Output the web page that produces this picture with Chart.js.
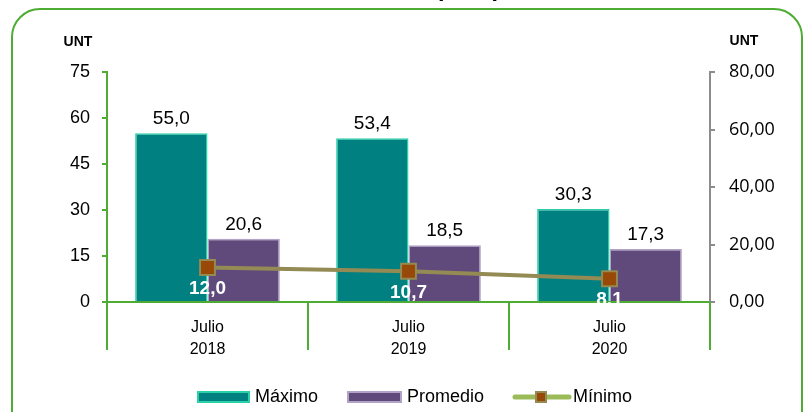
<!DOCTYPE html>
<html>
<head>
<meta charset="utf-8">
<script src="https://cdn.jsdelivr.net/npm/chart.js@4"></script>
<style>
  html, body { margin: 0; padding: 0; background: #fff; }
  #wrap { width: 806px; height: 412px; position: relative; }
</style>
</head>
<body>
<div id="wrap"><canvas id="grafico" width="806" height="412"></canvas></div>
<script>
// datos
const meses = [["Julio", "2018"], ["Julio", "2019"], ["Julio", "2020"]];
const maximo = [55.0, 53.4, 30.3];
const promedio = [20.6, 18.5, 17.3];
const minimo = [12.0, 10.7, 8.1];
const ticksIzq = [0, 15, 30, 45, 60, 75];
const ticksDer = [0, 20, 40, 60, 80];

const verde = "#4eac34";
const fuente = "'Liberation Sans', Arial, sans-serif";

function coma(v, d) {
  return v.toFixed(d).replace(".", ",");
}

// marco redondeado, unidades, separadores y leyenda
const extras = {
  id: "extras",
  beforeDraw(chart) {
    const ctx = chart.ctx;
    ctx.save();
    ctx.strokeStyle = verde;
    ctx.lineWidth = 2;
    ctx.beginPath();
    ctx.roundRect(12, 9, 790, 440, 28);
    ctx.stroke();
    ctx.restore();
  },
  afterDraw(chart) {
    const ctx = chart.ctx;
    const x = chart.scales.x;
    const area = chart.chartArea;
    ctx.save();
    // titulo cortado arriba
    ctx.fillStyle = "#000";
    ctx.font = "bold 24px " + fuente;
    ctx.textAlign = "center";
    ctx.textBaseline = "alphabetic";
    ctx.fillText("(UNT)", 468, -4);
    // unidades
    ctx.font = "bold 14px " + fuente;
    ctx.fillText("UNT", 78, 46);
    ctx.fillText("UNT", 744, 45);
    // separadores de categoria
    ctx.strokeStyle = verde;
    ctx.lineWidth = 2;
    for (let i = 0; i <= meses.length; i++) {
      const px = Math.round(x.getPixelForValue(i - 0.5));
      ctx.beginPath();
      ctx.moveTo(px, area.bottom);
      ctx.lineTo(px, area.bottom + 48);
      ctx.stroke();
    }
    // leyenda
    const ly = 397;
    ctx.font = "18px " + fuente;
    ctx.textAlign = "left";
    ctx.textBaseline = "middle";
    ctx.lineWidth = 2;
    ctx.fillStyle = "#008080";
    ctx.strokeStyle = "#2ad0a6";
    ctx.fillRect(198, ly - 5, 51, 10);
    ctx.strokeRect(198, ly - 5, 51, 10);
    ctx.fillStyle = "#000";
    ctx.fillText("Máximo", 255, ly);
    ctx.fillStyle = "#604a7b";
    ctx.strokeStyle = "#b3a2c7";
    ctx.fillRect(348, ly - 5, 53, 10);
    ctx.strokeRect(348, ly - 5, 53, 10);
    ctx.fillStyle = "#000";
    ctx.fillText("Promedio", 407, ly);
    ctx.strokeStyle = "#9bbb59";
    ctx.lineWidth = 5;
    ctx.lineCap = "round";
    ctx.beginPath();
    ctx.moveTo(515, ly);
    ctx.lineTo(569, ly);
    ctx.stroke();
    ctx.fillStyle = "#984807";
    ctx.strokeStyle = "#948a54";
    ctx.lineWidth = 2;
    ctx.fillRect(536, ly - 5, 10, 10);
    ctx.strokeRect(536, ly - 5, 10, 10);
    ctx.fillStyle = "#000";
    ctx.fillText("Mínimo", 573, ly);
    ctx.restore();
  },
  afterDatasetsDraw(chart) {
    const ctx = chart.ctx;
    ctx.save();
    ctx.textAlign = "center";
    chart.data.datasets.forEach((ds, i) => {
      const meta = chart.getDatasetMeta(i);
      meta.data.forEach((el, j) => {
        if (ds.type === "line") {
          ctx.font = "bold 19px " + fuente;
          ctx.fillStyle = "#fff";
          ctx.textBaseline = "top";
          ctx.fillText(coma(ds.data[j], 1), el.x, el.y + 12);
        } else {
          ctx.font = "19px " + fuente;
          ctx.fillStyle = "#000";
          ctx.textBaseline = "bottom";
          ctx.fillText(coma(ds.data[j], 1), el.x, el.y - 5);
        }
      });
    });
    ctx.restore();
  }
};

new Chart(document.getElementById("grafico"), {
  type: "bar",
  data: {
    labels: meses,
    datasets: [
      {
        label: "Máximo",
        data: maximo,
        backgroundColor: "#008080",
        borderColor: "#2ad0a6",
        borderWidth: 1.5,
        yAxisID: "y",
        order: 2
      },
      {
        label: "Promedio",
        data: promedio,
        backgroundColor: "#604a7b",
        borderColor: "#b3a2c7",
        borderWidth: 1.5,
        yAxisID: "y",
        order: 2
      },
      {
        type: "line",
        label: "Mínimo",
        data: minimo,
        borderColor: "#948a54",
        borderWidth: 4,
        pointStyle: "rect",
        pointRadius: 10.5,
        pointBackgroundColor: "#984807",
        pointBorderColor: "#948a54",
        pointBorderWidth: 2,
        yAxisID: "y1",
        order: 0
      }
    ]
  },
  options: {
    responsive: false,
    animation: false,
    devicePixelRatio: 1,
    layout: { padding: { top: 72, left: 0, right: 0, bottom: 0 } },
    datasets: {
      bar: { barPercentage: 1, categoryPercentage: 0.72 }
    },
    plugins: {
      legend: { display: false },
      tooltip: { enabled: false }
    },
    scales: {
      x: {
        offset: true,
        grid: { display: false },
        border: { color: verde, width: 2 },
        ticks: {
          color: "#000",
          font: { family: fuente, size: 16, lineHeight: 1.4 },
          padding: 6
        },
        afterFit(s) { s.height = 110; }
      },
      y: {
        position: "left",
        min: 0,
        max: 75,
        afterBuildTicks(s) { s.ticks = ticksIzq.map(v => ({ value: v })); },
        grid: { drawOnChartArea: false, drawTicks: true, tickLength: 5, color: verde, lineWidth: 2 },
        border: { color: verde, width: 2 },
        ticks: {
          color: "#000",
          font: { family: fuente, size: 18 },
          padding: 12
        },
        afterFit(s) { s.width = 107; }
      },
      y1: {
        position: "right",
        min: 0,
        max: 80,
        afterBuildTicks(s) { s.ticks = ticksDer.map(v => ({ value: v })); },
        grid: { drawOnChartArea: false, drawTicks: true, tickLength: 5, color: "#8c8c8c", lineWidth: 2 },
        border: { color: "#8c8c8c", width: 2 },
        ticks: {
          color: "#000",
          font: { family: "'Open Sans', sans-serif", size: 18 },
          padding: 14,
          callback: v => coma(v, 2)
        },
        afterFit(s) { s.width = 96; }
      }
    }
  },
  plugins: [extras]
});
</script>
</body>
</html>
